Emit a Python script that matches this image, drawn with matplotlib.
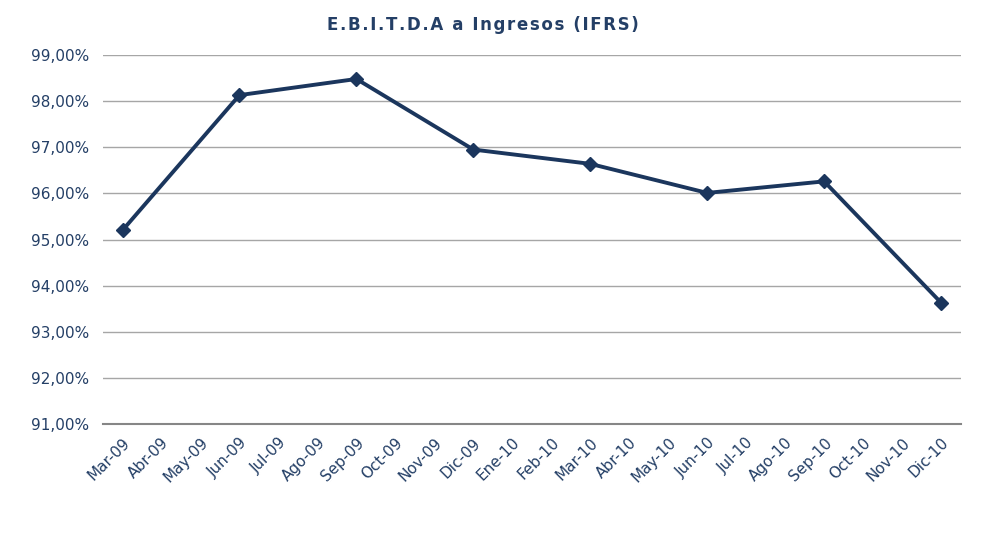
import numpy as np
import matplotlib.pyplot as plt
from matplotlib.ticker import FuncFormatter

plt.rcParams['font.family'] = ['DejaVu Sans']

meses = ['Mar-09', 'Abr-09', 'May-09', 'Jun-09', 'Jul-09', 'Ago-09', 'Sep-09',
         'Oct-09', 'Nov-09', 'Dic-09', 'Ene-10', 'Feb-10', 'Mar-10', 'Abr-10',
         'May-10', 'Jun-10', 'Jul-10', 'Ago-10', 'Sep-10', 'Oct-10', 'Nov-10', 'Dic-10']
# solo hay datos trimestrales
ebitda = [95.20, None, None, 98.13, None, None, 98.48, None, None, 96.95, None, None,
          96.64, None, None, 96.01, None, None, 96.26, None, None, 93.63]

navy = '#1b365d'
texto = '#243f66'

y = np.array([np.nan if v is None else v for v in ebitda])
x = np.arange(len(meses))
ok = ~np.isnan(y)

fig = plt.figure(figsize=(9.85, 5.37), dpi=100)
ax = fig.add_axes([0.1046, 0.2104, 0.8706, 0.6872])

ax.plot(x[ok], y[ok], color=navy, lw=2.8, marker='D', ms=7, zorder=3)

ax.set_xlim(-0.5, len(meses) - 0.5)
ax.set_ylim(91, 99)
ax.set_yticks(np.arange(91, 99.5, 1))
ax.yaxis.set_major_formatter(FuncFormatter(lambda v, p: f'{v:.2f}%'.replace('.', ',')))
ax.grid(axis='y', color='#a6a6a6', lw=1)
ax.set_axisbelow(True)

for s in ['top', 'right', 'left']:
    ax.spines[s].set_visible(False)
ax.spines['bottom'].set_color('#868686')
ax.spines['bottom'].set_linewidth(1.5)
ax.spines['bottom'].set_zorder(2)

ax.set_xticks(x)
ax.set_xticklabels(meses, rotation=45, ha='right', rotation_mode='anchor')
ax.tick_params(axis='both', length=0, colors=texto, labelsize=11)
ax.tick_params(axis='x', pad=8)
ax.tick_params(axis='y', pad=10)

titulo = 'E.B.I.T.D.A a Ingresos (IFRS)'
fig.text(0.49, 0.953, '\u200a'.join(titulo),
         ha='center', va='center', fontsize=12, fontweight='bold', color=texto)

plt.savefig('out.png', dpi=100)
